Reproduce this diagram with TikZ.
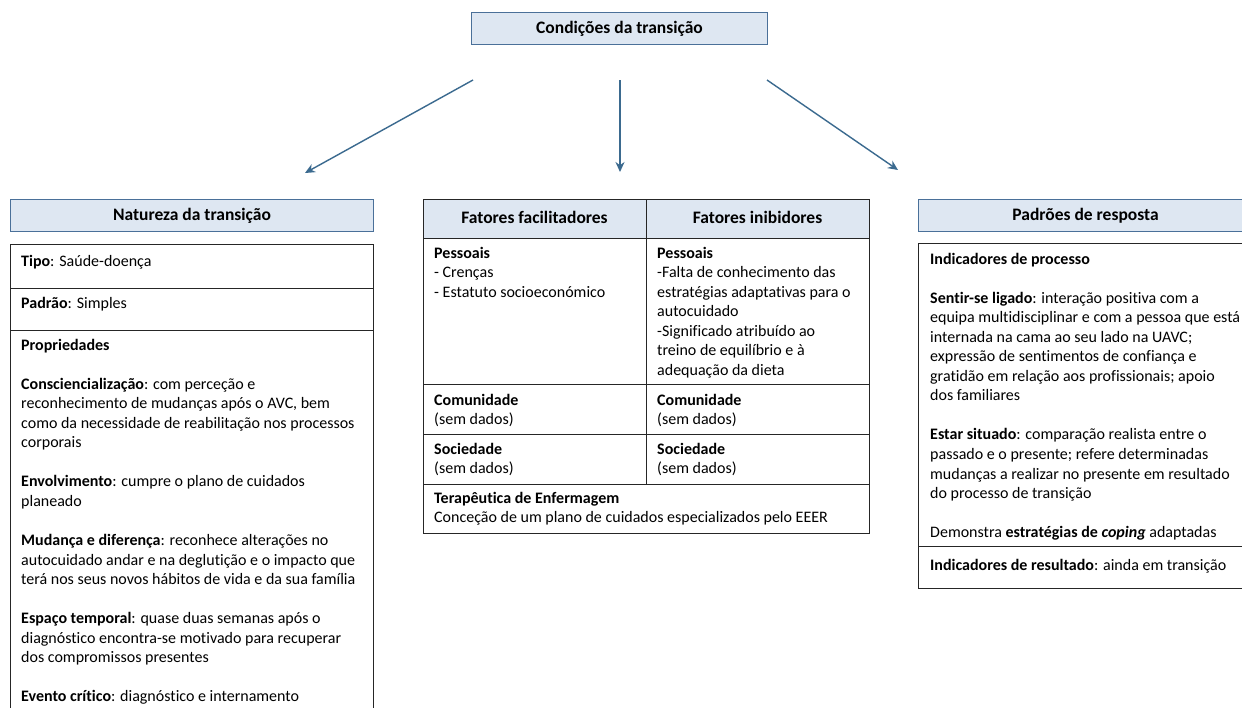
\documentclass[tikz,border=0pt]{standalone}
\usepackage{fontspec}
\setmainfont{Carlito}[Ligatures=NoCommon]
\usetikzlibrary{arrows.meta}
\definecolor{hdrfill}{HTML}{DEE7F2}
\definecolor{hdredge}{HTML}{4A7099}
\definecolor{arrcol}{HTML}{3B6A8F}
\definecolor{tline}{HTML}{262626}
\newlength{\bsk}\setlength{\bsk}{19.55pt}
\begin{document}
\begin{tikzpicture}[x=1pt,y=-1pt,
  hdr/.style={draw=hdredge, fill=hdrfill, line width=1pt, anchor=north west, inner sep=0pt, font=\fontsize{17.5}{20}\selectfont\bfseries},
  tbl/.style={draw=tline, line width=1pt},
  txt/.style={anchor=base west, inner sep=0pt, font=\fontsize{16}{19.55}\selectfont},
  htxt/.style={anchor=base, inner sep=0pt, font=\fontsize{17.5}{20}\selectfont\bfseries},
  conn/.style={draw=arrcol, line width=1.4pt, -{Stealth[length=10pt,width=9pt]}}]
\useasboundingbox (0,0) rectangle (1242,707);
\clip (0,0) rectangle (1242,707);
\fill[white] (0,0) rectangle (1242,707);

% top box
\node[hdr, minimum width=296pt, minimum height=32pt] (top) at (471,12) {Condições da transição};

% arrows
\coordinate (s1) at (473,80); \coordinate (e1) at (305,173);
\coordinate (s2) at (620,80); \coordinate (e2) at (620,172);
\coordinate (s3) at (767,80); \coordinate (e3) at (898,170);
\draw[conn] (s1) -- (e1);
\draw[conn] (s2) -- (e2);
\draw[conn] (s3) -- (e3);

% left column
\node[hdr, minimum width=363pt, minimum height=32pt] (nathdr) at (10,199) {Natureza da transição};
\draw[tbl] (10,244) rectangle (373,730);
\draw[tbl] (10,288) -- (373,288);
\draw[tbl] (10,330) -- (373,330);
\node[txt] (tipo) at (21,266) {\textbf{Tipo}: Saúde-doença};
\node[txt] (padrao) at (21,308) {\textbf{Padrão}: Simples};
\node[txt] (prop) at (21,350) {\parbox[t]{350pt}{%
\textbf{Propriedades}\\[\bsk]
\textbf{Consciencialização}: com perceção e\\
reconhecimento de mudanças após o AVC, bem\\
como da necessidade de reabilitação nos processos\\
corporais\\[\bsk]
\textbf{Envolvimento}: cumpre o plano de cuidados\\
planeado\\[\bsk]
\textbf{Mudança e diferença}: reconhece alterações no\\
autocuidado andar e na deglutição e o impacto que\\
terá nos seus novos hábitos de vida e da sua família\\[\bsk]
\textbf{Espaço temporal}: quase duas semanas após o\\
diagnóstico encontra-se motivado para recuperar\\
dos compromissos presentes\\[\bsk]
\textbf{Evento crítico}: diagnóstico e internamento}};

% middle table
\fill[hdrfill] (423,199) rectangle (869,238);
\draw[tbl] (423,199) rectangle (869,533);
\draw[tbl] (423,238) -- (869,238);
\draw[tbl] (423,384) -- (869,384);
\draw[tbl] (423,434) -- (869,434);
\draw[tbl] (423,484) -- (869,484);
\draw[tbl] (646,199) -- (646,484);
\node[htxt] (facil) at (534.5,223) {Fatores facilitadores};
\node[htxt] (inib) at (757.5,223) {Fatores inibidores};
\node[txt] (fp) at (434,258) {\parbox[t]{205pt}{%
\textbf{Pessoais}\\
- Crenças\\
- Estatuto socioeconómico}};
\node[txt] (ip) at (657,258) {\parbox[t]{205pt}{%
\textbf{Pessoais}\\
-Falta de conhecimento das\\
estratégias adaptativas para o\\
autocuidado\\
-Significado atribuído ao\\
treino de equilíbrio e à\\
adequação da dieta}};
\node[txt] (fc) at (434,405) {\parbox[t]{205pt}{\textbf{Comunidade}\\(sem dados)}};
\node[txt] (ic) at (657,405) {\parbox[t]{205pt}{\textbf{Comunidade}\\(sem dados)}};
\node[txt] (fs) at (434,454) {\parbox[t]{205pt}{\textbf{Sociedade}\\(sem dados)}};
\node[txt] (is) at (657,454) {\parbox[t]{205pt}{\textbf{Sociedade}\\(sem dados)}};
\node[txt] (ter) at (434,503) {\parbox[t]{430pt}{\textbf{Terapêutica de Enfermagem}\\Conceção de um plano de cuidados especializados pelo EEER}};

% right column
\node[hdr, minimum width=340pt, minimum height=32pt] (padhdr) at (918,199) {\hspace*{-6pt}Padrões de resposta};
\draw[tbl] (918,243) rectangle (1260,588);
\draw[tbl] (918,546) -- (1260,546);
\node[txt] (proc) at (930,264) {\parbox[t]{330pt}{%
\textbf{Indicadores de processo}\\[\bsk]
\textbf{Sentir-se ligado}: interação positiva com a\\
equipa multidisciplinar e com a pessoa que está\\
internada na cama ao seu lado na UAVC;\\
expressão de sentimentos de confiança e\\
gratidão em relação aos profissionais; apoio\\
dos familiares\\[\bsk]
\textbf{Estar situado}: comparação realista entre o\\
passado e o presente; refere determinadas\\
mudanças a realizar no presente em resultado\\
do processo de transição\\[\bsk]
Demonstra \textbf{estratégias de \textit{coping}} adaptadas}};
\node[txt] (res) at (930,570) {\textbf{Indicadores de resultado}: ainda em transição};
\end{tikzpicture}
\end{document}
